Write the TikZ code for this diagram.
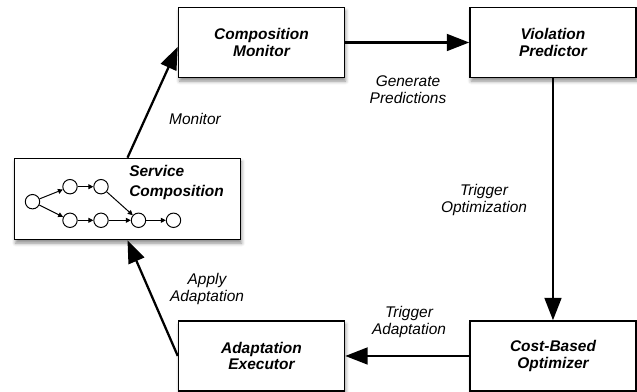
\documentclass[tikz,border=0pt]{standalone}
\usepackage{fontspec}
\setmainfont{Liberation Sans}
\usepackage{tikz}
\usetikzlibrary{arrows.meta}
\usetikzlibrary{positioning}
\usetikzlibrary{shadows.blur}

\begin{document}
\begin{tikzpicture}
		[x=0.025cm, y=-0.025cm,
		font=\fontsize{11}{12}\selectfont,
		flow arrow/.style={draw,line width=1.6pt,-{Triangle[length=16pt,width=12pt]}}
		]
		
		% Three node styles: boxes, labels and the small service graph
		\tikzstyle{stage box}=[draw,line width=1pt,fill=white,minimum width=4.15cm,minimum height=1.75cm,align=center,font=\fontsize{11}{12}\selectfont\bfseries\itshape,blur shadow={shadow xshift=0.8pt,shadow yshift=-2.5pt,shadow blur radius=2.5pt,shadow opacity=45}];
		\tikzstyle{edge label}=[align=center,inner sep=0,font=\fontsize{11}{12}\selectfont\itshape];
		\tikzstyle{service node}=[circle,draw,line width=0.7pt,fill=white,minimum size=0.36cm,inner sep=0];
		\tikzstyle{small arrow}=[draw,line width=0.7pt,-{Triangle[length=3.5pt,width=3.5pt]}];
		
		\useasboundingbox (0,0) rectangle (637,392);
		
		% The loop of boxes
		\node(mon)[stage box] at (261.5,42.5){Composition\\Monitor};
		\node(pred)[stage box,right=3.1cm of mon]{Violation\\Predictor};
		\node(opt)[stage box,below=6.05cm of pred]{Cost-Based\\Optimizer};
		\node(exec)[stage box,left=3.1cm of opt]{Adaptation\\Executor};
		
		% Service composition with its small graph
		\node(comp)[stage box,minimum width=5.65cm,minimum height=2.03cm] at (127.5,199){};
		\node(comptitle)[anchor=north west,inner sep=0,align=left,font=\fontsize{11}{12}\selectfont\bfseries\itshape] at (129,165){Service\\[2pt]Composition};
		\foreach \n/\x/\y in {s1/32.5/201.7, s2/70/186.7, s3/101/186.7, s4/70/220.3, s5/101/220.3, s6/138.5/220.3, s7/173.5/220.3}
			\node(\n)[service node] at (\x,\y){};
		\foreach \a/\b in {s1/s2, s1/s4, s2/s3, s3/s6, s4/s5, s5/s6, s6/s7}
			\draw[small arrow](\a)--(\b);
		
		% Connectors
		\draw[flow arrow](comp.north)--(mon.183);
		\draw[flow arrow](mon.east)--(pred.west);
		\draw[flow arrow](pred)--(opt);
		\draw[flow arrow](opt)--(exec);
		\draw[flow arrow](exec.west)--(comp.south);
		
		% Connector labels
		\node(monlab)[edge label] at (195,119){Monitor};
		\node(genlab)[edge label] at (408,90){Generate\\Predictions};
		\node(optlab)[edge label] at (484,200){Trigger\\Optimization};
		\node(adlab)[edge label] at (409,322){Trigger\\Adaptation};
		\node(applab)[edge label] at (207,289){Apply\\Adaptation};
		\end{tikzpicture}
\end{document}
